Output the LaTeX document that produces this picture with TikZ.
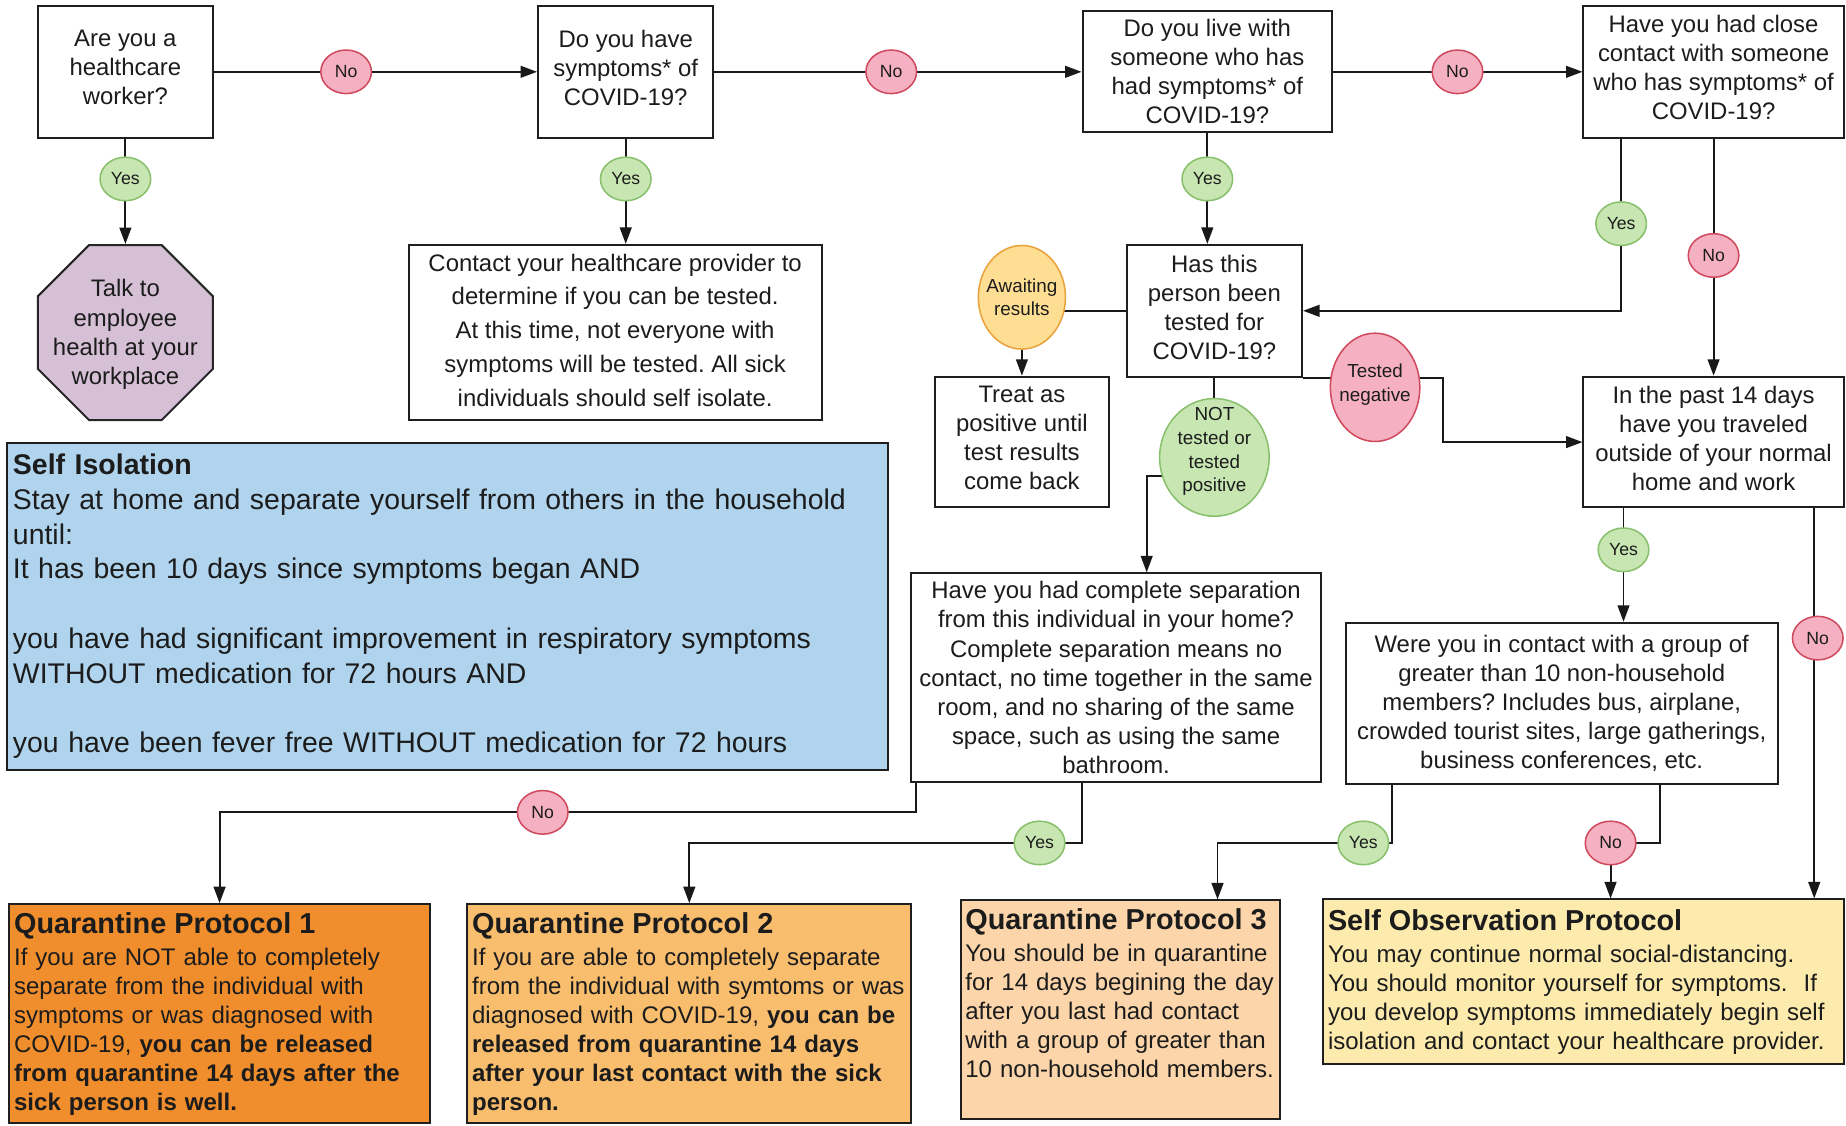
\documentclass[tikz,border=0pt]{standalone}
\usepackage{fontspec}
\setmainfont{Liberation Sans}
\usetikzlibrary{arrows.meta,shapes.geometric,calc}
\pgfdeclarelayer{back}
\pgfdeclarelayer{bg}
\pgfsetlayers{back,bg,main}
\definecolor{txt}{HTML}{1C1C1C}
\definecolor{cYesF}{HTML}{C7E6B2}
\definecolor{cYesD}{HTML}{88C06C}
\definecolor{cNoF}{HTML}{F5B1C2}
\definecolor{cNoD}{HTML}{CF4A5E}
\definecolor{cAwF}{HTML}{FDDE92}
\definecolor{cAwD}{HTML}{EBA23C}
\definecolor{cOct}{HTML}{D6C0D6}
\definecolor{cSI}{HTML}{B0D4EE}
\definecolor{cQa}{HTML}{F08D2C}
\definecolor{cQb}{HTML}{F9BD6E}
\definecolor{cQc}{HTML}{FCD6AA}
\definecolor{cSO}{HTML}{FDEBAE}
\newcommand{\dgmain}{\fontsize{20.3}{24.7}\selectfont}
\newcommand{\dgwide}{\fontsize{20.3}{28.8}\selectfont}
\newcommand{\dgbody}{\fontsize{20.4}{24.6}\selectfont}
\newcommand{\dgtitle}{\fontsize{24.5}{24.6}\selectfont\bfseries}
\newcommand{\dgiso}{\fontsize{24.15}{29.5}\selectfont}
\newcommand{\dglab}{\fontsize{15}{20}\selectfont}
\newcommand{\dgsmall}{\fontsize{16}{20.2}\selectfont}
\newcommand{\dgup}[1]{\rule[-#1]{0pt}{0pt}}
\frenchspacing
\begin{document}
\begin{tikzpicture}[x=1pt,y=-1pt,
  qbox/.style={draw=black!88, line width=1.7pt, fill=white, inner sep=0pt, align=center, text=txt, font=\dgmain},
  yesc/.style={ellipse, draw=cYesD, fill=cYesF, line width=1.3pt, minimum width=43pt, minimum height=37pt, inner sep=0pt, font=\dglab, text=txt},
  noc/.style={ellipse, draw=cNoD, fill=cNoF, line width=1.3pt, minimum width=43pt, minimum height=37pt, inner sep=0pt, font=\dglab, text=txt},
  biglab/.style={font=\dgsmall, align=center, text=txt, inner sep=0pt},
  arr/.style={-{Triangle[length=14pt,width=10pt]}, line width=1.6pt, draw=black!90},
  ln/.style={line width=1.6pt, draw=black!90}]
\begin{pgfonlayer}{back}
\fill[white] (0,0) rectangle (1568,956);
\end{pgfonlayer}
\useasboundingbox (0,0) rectangle (1568,956);

% question boxes
\node[qbox, minimum width=149pt, minimum height=112pt] (A) at (106.5,61) {Are you a\\healthcare\\worker?\dgup{7pt}};
\node[qbox, minimum width=149pt, minimum height=112pt] (B) at (531.5,61) {Do you have\\symptoms* of\\COVID-19?\dgup{7pt}};
\node[qbox, minimum width=212pt, minimum height=103pt] (C) at (1025.5,61) {Do you live with\\someone who has\\had symptoms* of\\COVID-19?};
\node[qbox, minimum width=221pt, minimum height=112pt] (D) at (1455.5,61) {Have you had close\\contact with someone\\who has symptoms* of\\COVID-19?\dgup{7pt}};
\node[qbox, font=\dgwide, minimum width=351pt, minimum height=149pt] (E) at (522.5,282.5) {Contact your healthcare provider to\\determine if you can be tested.\\At this time, not everyone with\\symptoms will be tested. All sick\\individuals should self isolate.\dgup{4pt}};
\node[qbox, minimum width=149pt, minimum height=112pt] (F) at (1031.5,264) {Has this\\person been\\tested for\\COVID-19?\dgup{6pt}};
\node[qbox, minimum width=148pt, minimum height=111pt] (H) at (868,375.5) {Treat as\\positive until\\test results\\come back\dgup{7pt}};
\node[qbox, minimum width=221pt, minimum height=111pt] (G) at (1455.5,375.5) {In the past 14 days\\have you traveled\\outside of your normal\\home and work\dgup{7pt}};
\node[qbox, minimum width=348pt, minimum height=177pt] (I) at (948,575.5) {Have you had complete separation\\from this individual in your home?\\Complete separation means no\\contact, no time together in the same\\room, and no sharing of the same\\space, such as using the same\\bathroom.};
\node[qbox, minimum width=367pt, minimum height=137pt] (J) at (1326.5,597.5) {Were you in contact with a group of\\greater than 10 non-household\\members? Includes bus, airplane,\\crowded tourist sites, large gatherings,\\business conferences, etc.};

% octagon
\node[regular polygon, regular polygon sides=8, minimum size=161pt, inner sep=0pt, draw=black!85, fill=cOct, line width=1.7pt,
  label={[font=\dgmain, align=center, text=txt, inner sep=0pt, yshift=-1.5pt]center:{Talk to\\employee\\health at your\\workplace}}] (oct) at (106.5,282.5) {};

% self isolation
\node[qbox, fill=cSI, minimum width=748pt, minimum height=278pt, text width=738pt, align=left, font=\dgiso] (SI) at (380,515)
 {{\bfseries\fontsize{24.2}{29.5}\selectfont Self Isolation}\\
  Stay at home and separate yourself from others in the household\\
  until:\\
  It has been 10 days since symptoms began AND\\[29.5pt]
  you have had significant improvement in respiratory symptoms\\
  WITHOUT medication for 72 hours AND\\[29.5pt]
  you have been fever free WITHOUT medication for 72 hours\dgup{4pt}};

% protocols
\node[qbox, fill=cQa, minimum width=357pt, minimum height=186pt, text width=349pt, align=left, font=\dgbody] (QP1) at (186.5,861)
 {{\dgtitle Quarantine Protocol 1}\\[2.7pt]
  If you are NOT able to completely\\
  separate from the individual with\\
  symptoms or was diagnosed with\\
  COVID-19, \textbf{you can be released}\\
  \textbf{from quarantine 14 days after the}\\
  \textbf{sick person is well.}};
\node[qbox, fill=cQb, minimum width=377pt, minimum height=186pt, text width=369pt, align=left, font=\dgbody] (QP2) at (585.5,861)
 {{\dgtitle Quarantine Protocol 2}\\[2.7pt]
  If you are able to completely separate\\
  from the individual with symtoms or was\\
  diagnosed with COVID-19, \textbf{you can be}\\
  \textbf{released from quarantine 14 days}\\
  \textbf{after your last contact with the sick}\\
  \textbf{person.}};
\node[qbox, fill=cQc, anchor=north, inner xsep=4pt, inner ysep=7pt, text width=263pt, align=left, font=\dgbody] (QP3) at (951.5,764)
 {{\dgtitle Quarantine Protocol 3}\\[2.7pt]
  You should be in quarantine\\
  for 14 days begining the day\\
  after you last had contact\\
  with a group of greater than\\
  10 non-household members.\rule[-28pt]{0pt}{0pt}};
\node[qbox, fill=cSO, minimum width=442pt, minimum height=140pt, text width=434pt, align=left, font=\dgbody] (SO) at (1345,834)
 {{\dgtitle Self Observation Protocol}\\[2.7pt]
  You may continue normal social-distancing.\\
  You should monitor yourself for symptoms.\ \ If\\
  you develop symptoms immediately begin self\\
  isolation and contact your healthcare provider.\dgup{2pt}};

% label circles
\node[noc] (noA) at (294,61) {No};
\node[noc] (noB) at (757,61) {No};
\node[noc] (noC) at (1238,61) {No};
\node[yesc] (yesA) at (106.5,152) {Yes};
\node[yesc] (yesB) at (531.5,152) {Yes};
\node[yesc] (yesC) at (1025.5,152) {Yes};
\node[yesc] (yesD) at (1377,190) {Yes};
\node[noc] (noD) at (1455.5,217) {No};
\node[yesc] (yesG) at (1379,467) {Yes};
\node[noc] (noG) at (1544,542) {No};
\node[noc] (noI) at (461,690) {No};
\node[yesc] (yesI) at (883,716) {Yes};
\node[yesc] (yesJ) at (1158,716) {Yes};
\node[noc] (noJ) at (1368,716) {No};

\node[ellipse, draw=cAwD, fill=cAwF, line width=1.3pt, minimum width=74pt, minimum height=88pt, inner sep=0pt,
  label={[biglab]center:{Awaiting\\results}}] (await) at (868,252.5) {};
\node[ellipse, draw=cYesD, fill=cYesF, line width=1.3pt, minimum width=93pt, minimum height=100pt, inner sep=0pt,
  label={[biglab, yshift=5pt]center:{NOT\\tested or\\tested\\positive}}] (nt) at (1031.5,388.5) {};
\node[ellipse, draw=cNoD, fill=cNoF, line width=1.3pt, minimum width=76pt, minimum height=92pt, inner sep=0pt,
  label={[biglab, yshift=2pt]center:{Tested\\negative}}] (tneg) at (1168,329) {};

% connector helper points
\coordinate (iIn) at ($(I.north)+(26,0)$);
\coordinate (tnB) at (1226,340);
\coordinate (iN) at ($(I.south west)+(5,0)$);
\coordinate (iY) at ($(I.south west)+(146,0)$);
\coordinate (jY) at ($(J.south west)+(40,0)$);
\coordinate (jN) at ($(J.south west)+(268,0)$);
\coordinate (q3In) at ($(QP3.north west)+(219,0)$);
\coordinate (gN) at (1541,431);

\begin{pgfonlayer}{bg}
\draw[arr] (A.east) -- (noA.center) -- (B.west);
\draw[arr] (B.east) -- (noB.center) -- (C.west);
\draw[arr] (C.east) -- (noC.center) -- (D.west);
\draw[arr] (A.south) -- (yesA.center) -- (oct.north);
\draw[arr] (B.south) -- (yesB.center) -- (B.south |- E.north);
\draw[arr] (C.south) -- (yesC.center) -- (C.south |- F.north);
\draw[arr] (yesD.center |- D.south) -- (yesD.center) |- (F.east);
\draw[arr] (D.south) -- (noD.center) -- (G.north);
\draw[ln] (F.west) -- (await.center |- F.west);
\draw[arr] (await.south) -- (H.north);
\draw[ln] (F.south) -- (nt.center);
\draw[arr] ($(nt.center)+(0,16)$) -| (iIn);
\draw[arr] (F.south east) -| (tnB) |- (G.west);
\draw[arr] (yesG.center |- G.south) -- (yesG.center) -- (yesG.center |- J.north);
\draw[arr] (gN) -- (gN |- SO.north);
\draw[arr] (iN) |- (noI.center) -| (QP1.north);
\draw[arr] (iY) |- (yesI.center) -| (QP2.north);
\draw[arr] (jY) |- (yesJ.center) -| (q3In);
\draw[arr] (jN) |- (noJ.center) -- (noJ.center |- SO.north);
\end{pgfonlayer}
\end{tikzpicture}
\end{document}
